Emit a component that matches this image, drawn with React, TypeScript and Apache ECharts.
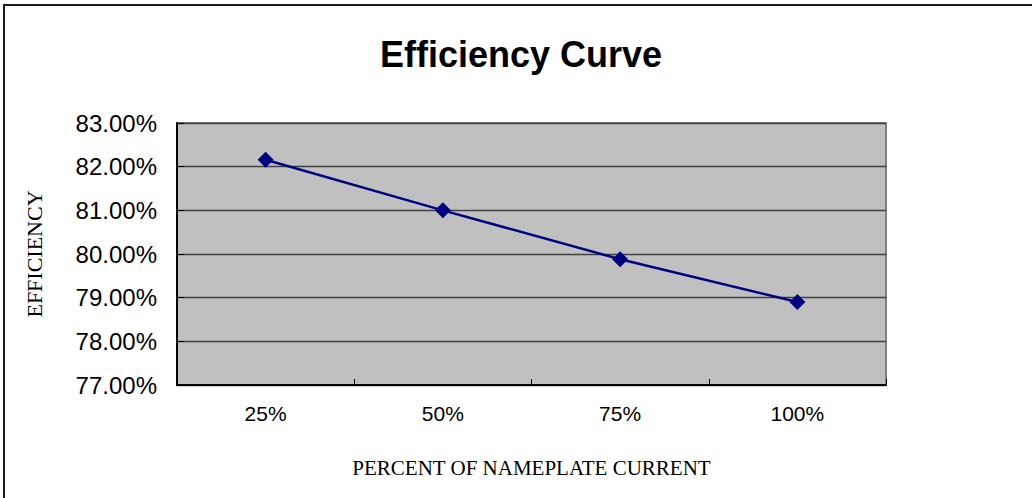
import React, { useEffect, useRef } from "react";
import * as echarts from "echarts";

// Load levels along the x axis and measured efficiency (percent)
const loadLevels = ["25%", "50%", "75%", "100%"];
const efficiency = [82.16, 81.0, 79.88, 78.9];
const yMin = 77;
const yMax = 83;
const yStep = 1;

export default function App() {
  const ref = useRef<HTMLDivElement>(null);

  useEffect(() => {
    if (!ref.current) return;
    const chart = echarts.init(ref.current, null, { renderer: "svg" });
    chart.setOption({
      animation: false,
      backgroundColor: "#ffffff",
      graphic: [
        {
          type: "rect",
          shape: { x: 4, y: 5, width: 1200, height: 700 },
          style: { fill: "none", stroke: "#1a1a1a", lineWidth: 2 },
          silent: true,
          z: 100,
        },
        {
          type: "text",
          x: 521,
          y: 54,
          style: {
            text: "Efficiency Curve",
            font: "bold 36px Arial, 'Liberation Sans', sans-serif",
            fill: "#000000",
            textAlign: "center",
            textVerticalAlign: "middle",
          },
        },
      ],
      grid: {
        left: 177,
        right: 146,
        top: 123,
        bottom: 113,
        show: true,
        backgroundColor: "#c0c0c0",
        borderColor: "#808080",
        borderWidth: 2,
      },
      xAxis: {
        type: "category",
        data: loadLevels,
        boundaryGap: true,
        name: "PERCENT OF NAMEPLATE CURRENT",
        nameLocation: "middle",
        nameGap: 72,
        nameTextStyle: {
          fontFamily: "'Liberation Serif', 'DejaVu Serif', serif",
          fontSize: 21,
          color: "#000000",
        },
        axisLine: { show: true, lineStyle: { color: "#000000", width: 2 } },
        axisTick: {
          show: true,
          inside: true,
          length: 6,
          alignWithLabel: false,
          lineStyle: { color: "#000000", width: 1 },
        },
        axisLabel: {
          fontFamily: "Arial, 'Liberation Sans', sans-serif",
          fontSize: 21,
          color: "#000000",
          margin: 18,
        },
        splitLine: { show: false },
      },
      yAxis: {
        type: "value",
        min: yMin,
        max: yMax,
        interval: yStep,
        name: "EFFICIENCY",
        nameLocation: "middle",
        nameGap: 132,
        nameRotate: 90,
        nameTextStyle: {
          fontFamily: "'Liberation Serif', 'DejaVu Serif', serif",
          fontSize: 22,
          color: "#000000",
        },
        axisLine: { show: true, lineStyle: { color: "#000000", width: 2 } },
        axisTick: {
          show: true,
          inside: true,
          length: 7,
          lineStyle: { color: "#000000", width: 1 },
        },
        axisLabel: {
          fontFamily: "Arial, 'Liberation Sans', sans-serif",
          fontSize: 24,
          color: "#000000",
          margin: 20,
          formatter: (v: number) => v.toFixed(2) + "%",
        },
        splitLine: { show: true, lineStyle: { color: "#404040", width: 1.3 } },
      },
      series: [
        {
          type: "line",
          data: efficiency,
          symbol: "diamond",
          symbolSize: 16,
          showSymbol: true,
          lineStyle: { color: "#000080", width: 2.5 },
          itemStyle: { color: "#000080" },
        },
      ],
    });
    return () => chart.dispose();
  }, []);

  return (
    <div
      ref={ref}
      style={{ position: "fixed", left: 0, top: 0, width: 1032, height: 498 }}
    />
  );
}
